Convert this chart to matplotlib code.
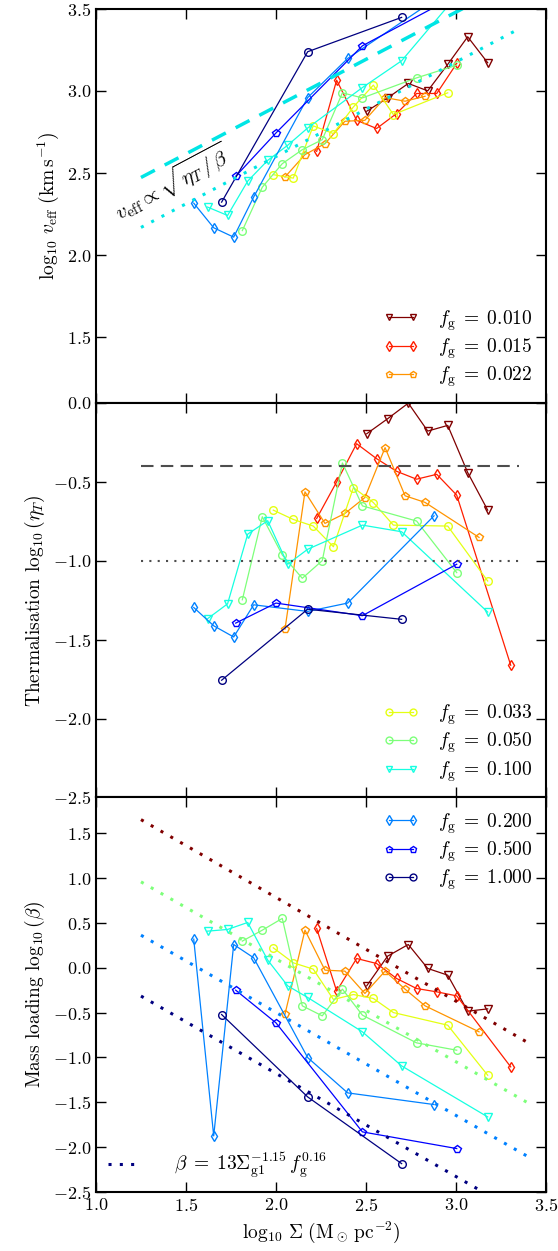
import numpy as np
import matplotlib
matplotlib.use('Agg')
import matplotlib.pyplot as plt

plt.rcParams['font.family'] = 'cmr10'
plt.rcParams['mathtext.fontset'] = 'cm'
plt.rcParams['axes.formatter.use_mathtext'] = True
plt.rcParams['font.size'] = 13

# gas fractions
fg = [0.010, 0.015, 0.022, 0.033, 0.050, 0.100, 0.200, 0.500, 1.000]
fg_markers = ['v', 'd', 'p', 'o', 'o', 'v', 'd', 'p', 'o']

# log10 Sigma of each run, per gas fraction
sig_010 = [2.504, 2.620, 2.735, 2.843, 2.954, 3.065, 3.176]
sig_015 = [2.226, 2.337, 2.448, 2.559, 2.670, 2.781, 2.893, 3.004, 3.304]
sig_022 = [2.050, 2.161, 2.272, 2.383, 2.494, 2.606, 2.717, 2.828, 3.128]
sig_033 = [1.985, 2.096, 2.207, 2.319, 2.430, 2.541, 2.652, 2.954, 3.176]
sig_050 = [1.813, 1.924, 2.035, 2.146, 2.257, 2.369, 2.480, 2.781, 3.004]
sig_100 = [1.620, 1.731, 1.843, 1.954, 2.065, 2.176, 2.480, 2.698, 3.176]
sig_200 = [1.543, 1.654, 1.765, 1.876, 2.176, 2.398, 2.878]
sig_500 = [1.776, 2.000, 2.480, 3.004]
sig_1000 = [1.698, 2.176, 2.698]

# log10 v_eff
veff_010 = [2.875, 2.956, 3.044, 2.999, 3.160, 3.328, 3.170]
veff_015 = [2.631, 3.064, 2.820, 2.770, 2.861, 2.983, 2.983, 3.166, np.nan]
veff_022 = [2.475, 2.611, 2.678, 2.814, 2.820, 2.958, 2.936, 2.966, np.nan]
veff_033 = [2.489, 2.468, 2.786, 2.739, 2.901, 3.034, 2.855, 2.987, np.nan]
veff_050 = [2.149, 2.413, 2.556, 2.641, 2.702, 2.987, 2.956, 3.078, 3.155]
veff_100 = [2.292, 2.241, 2.450, 2.576, 2.668, 2.773, 3.019, 3.182, 3.80]
veff_200 = [2.316, 2.166, 2.109, 2.353, 2.958, 3.196, 3.55]
veff_500 = [2.479, 2.743, 3.273, 3.58]
veff_1000 = [2.322, 3.237, 3.446]

# log10 eta_T
eta_010 = [-0.195, -0.100, -0.001, -0.178, -0.142, -0.441, -0.679]
eta_015 = [-0.732, -0.500, -0.258, -0.353, -0.433, -0.483, -0.452, -0.584, -1.662]
eta_022 = [-1.433, -0.563, -0.763, -0.700, -0.599, -0.283, -0.588, -0.630, -0.852]
eta_033 = [-0.679, -0.738, -0.780, -0.911, -0.536, -0.631, -0.774, -0.780, -1.128]
eta_050 = [-1.247, -0.721, -0.963, -1.111, -0.999, -0.380, -0.652, -0.748, -1.075]
eta_100 = [-1.367, -1.273, -0.831, -0.746, -1.022, -0.927, -0.774, -0.816, -1.325]
eta_200 = [-1.296, -1.412, -1.483, -1.279, -1.321, -1.268, -0.715]
eta_500 = [-1.395, -1.268, -1.348, -1.022]
eta_1000 = [-1.757, -1.307, -1.371]

# log10 beta
beta_010 = [-0.201, 0.130, 0.260, -0.007, -0.082, -0.484, -0.458]
beta_015 = [0.439, -0.260, 0.104, 0.048, -0.119, -0.231, -0.268, -0.313, -1.105]
beta_022 = [-0.517, 0.420, -0.026, -0.037, -0.286, -0.037, -0.238, -0.424, -0.714]
beta_033 = [0.223, 0.056, -0.015, -0.353, -0.298, -0.342, -0.499, -0.640, -1.198]
beta_050 = [0.298, 0.420, 0.551, -0.424, -0.536, -0.238, -0.528, -0.837, -0.919]
beta_100 = [0.409, 0.428, 0.506, 0.086, -0.201, -0.331, -0.714, -1.094, -1.663]
beta_200 = [0.320, -1.875, 0.260, 0.112, -1.001, -1.395, -1.525]
beta_500 = [-0.249, -0.614, -1.830, -2.016]
beta_1000 = [-0.521, -1.440, -2.184]

sig_all = [sig_010, sig_015, sig_022, sig_033, sig_050, sig_100, sig_200, sig_500, sig_1000]
veff_all = [veff_010, veff_015, veff_022, veff_033, veff_050, veff_100, veff_200, veff_500, veff_1000]
eta_all = [eta_010, eta_015, eta_022, eta_033, eta_050, eta_100, eta_200, eta_500, eta_1000]
beta_all = [beta_010, beta_015, beta_022, beta_033, beta_050, beta_100, beta_200, beta_500, beta_1000]

# guide lines (end points)
guide_x = [1.25, 3.4]
veff_dash = [2.472, 3.708]
veff_dot_x = [1.25, 3.35]
veff_dot = [2.168, 3.376]
eta_guide_x = [1.25, 3.35]
eta_dash = [-0.4, -0.4]
eta_dot = [-1.0, -1.0]
# beta fit for fg = 0.010, 0.050, 0.200, 1.000
beta_fit_idx = [0, 4, 6, 8]
beta_fit = [[1.653, -0.835], [0.959, -1.507], [0.364, -2.106], [-0.315, -2.788]]

colors = plt.cm.jet(np.linspace(1, 0, len(fg)))

fig, axes = plt.subplots(3, 1, figsize=(5.58, 12.51), dpi=100, sharex=True)
fig.subplots_adjust(left=0.172, right=0.9785, top=0.9932, bottom=0.0472, hspace=0)
ax1, ax2, ax3 = axes

handles = []
for i in range(len(fg)):
    kw = dict(color=colors[i], marker=fg_markers[i], mfc='none', mec=colors[i],
              ms=5.5, mew=1.0, lw=0.9)
    h, = ax1.plot(sig_all[i], veff_all[i], label=r'$f_{\rm g}\;=\;%.3f$' % fg[i], **kw)
    ax2.plot(sig_all[i], eta_all[i], **kw)
    ax3.plot(sig_all[i], beta_all[i], **kw)
    handles.append(h)

# top panel guides
ax1.plot(guide_x, veff_dash, color='#00e5e5', lw=2.5, ls=(0, (4.5, 3.2)))
ax1.plot(veff_dot_x, veff_dot, color='#00e5e5', lw=2.2, ls=(0, (1, 2.8)))
ax1.text(1.13, 2.21, r'$v_{\rm eff} \propto \sqrt{\eta_T\,/\,\beta}$', rotation=28,
         rotation_mode='anchor', fontsize=15)

# middle panel guides
ax2.plot(eta_guide_x, eta_dash, color='0.3', lw=1.5, ls=(0, (6, 3.5)))
ax2.plot(eta_guide_x, eta_dot, color='0.3', lw=1.5, ls=(0, (1, 3)))

# bottom panel fits
fit_handle = None
for j, i in enumerate(beta_fit_idx):
    ln, = ax3.plot(guide_x, beta_fit[j], color=colors[i], lw=2.2, ls=(0, (1, 2.7)))
    if fg[i] == 1.0:
        fit_handle = ln

leg_kw = dict(frameon=False, numpoints=2, handlelength=1.8, handletextpad=1.0,
              labelspacing=0.2, markerscale=0.9, fontsize=14, borderaxespad=0.3)
ax1.legend(handles=handles[0:3], loc='lower right', **leg_kw)
ax2.legend(handles=handles[3:6], loc='lower right', **leg_kw)
l3 = ax3.legend(handles=handles[6:9], loc='upper right', **leg_kw)
ax3.add_artist(l3)
ax3.legend([fit_handle], [r'$\beta\;=\;13\Sigma_{\rm g1}^{-1.15}\,f_{\rm g}^{0.16}$'],
           loc='lower left', frameon=False, handlelength=1.6, handletextpad=1.8,
           fontsize=14, borderaxespad=0.2)

for ax in axes:
    ax.tick_params(direction='in', length=7, width=1, top=True, right=True, labelsize=13)
    for s in ax.spines.values():
        s.set_linewidth(1.5)

ax1.set_xlim(1.0, 3.5)
ax1.set_xticks([1.0, 1.5, 2.0, 2.5, 3.0, 3.5])
ax1.set_ylim(1.1, 3.5)
ax1.set_yticks([1.5, 2.0, 2.5, 3.0, 3.5])
ax2.set_ylim(-2.5, 0.0)
ax2.set_yticks([-2.5, -2.0, -1.5, -1.0, -0.5, 0.0])
ax3.set_ylim(-2.5, 1.9)
ax3.set_yticks([-2.5, -2.0, -1.5, -1.0, -0.5, 0.0, 0.5, 1.0, 1.5])

ax1.set_ylabel(r'$\log_{10}\, v_{\rm eff}\ ({\rm km\,s^{-1}})$', fontsize=14)
ax2.set_ylabel(r'Thermalisation $\log_{10}(\eta_T)$', fontsize=14)
ax3.set_ylabel(r'Mass loading $\log_{10}(\beta)$', fontsize=14)
ax3.set_xlabel(r'$\log_{10}\,\Sigma\ ({\rm M_\odot\,pc^{-2}})$', fontsize=14)

fig.savefig('out.png', dpi=100)
